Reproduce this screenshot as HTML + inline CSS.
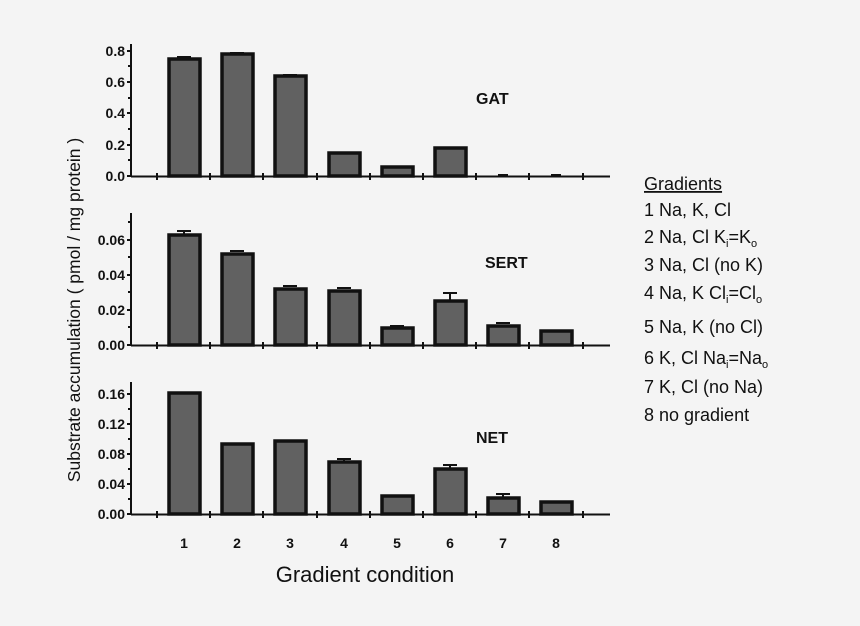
<!DOCTYPE html>
<html><head><style>body{margin:0;background:#f4f4f4}svg{display:block}</style></head><body>
<svg width="860" height="626" xmlns="http://www.w3.org/2000/svg" font-family="Liberation Sans, sans-serif">
<rect width="860" height="626" fill="#f4f4f4"/>
<g stroke="#111" stroke-width="2">
<line x1="131" y1="44" x2="131" y2="177"/><line x1="131" y1="176.5" x2="610" y2="176.5"/>
<line x1="131" y1="213" x2="131" y2="346"/><line x1="131" y1="345.5" x2="610" y2="345.5"/>
<line x1="131" y1="382" x2="131" y2="515"/><line x1="131" y1="514.5" x2="610" y2="514.5"/>
</g>
<g stroke="#111" stroke-width="2">
<path d="M127 176h4M127 145h4M127 113h4M127 82h4M127 51h4M128 160h3M128 129h3M128 98h3M128 66h3"/>
<path d="M127 345h4M127 310h4M127 275h4M127 240h4M128 327h3M128 292h3M128 257h3M128 222h3"/>
<path d="M127 514h4M127 484h4M127 454h4M127 424h4M127 394h4M128 499h3M128 469h3M128 439h3M128 409h3"/>
<path d="M157 173v7M210 173v7M263 173v7M317 173v7M370 173v7M423 173v7M476 173v7M529 173v7M583 173v7"/>
<path d="M157 342v7M210 342v7M263 342v7M317 342v7M370 342v7M423 342v7M476 342v7M529 342v7M583 342v7"/>
<path d="M157 511v7M210 511v7M263 511v7M317 511v7M370 511v7M423 511v7M476 511v7M529 511v7M583 511v7"/>
</g>
<g font-size="14" font-weight="bold" text-anchor="end" fill="#111">
<text x="125" y="181">0.0</text><text x="125" y="150">0.2</text><text x="125" y="118">0.4</text><text x="125" y="87">0.6</text><text x="125" y="56">0.8</text>
<text x="125" y="350">0.00</text><text x="125" y="315">0.02</text><text x="125" y="280">0.04</text><text x="125" y="245">0.06</text>
<text x="125" y="519">0.00</text><text x="125" y="489">0.04</text><text x="125" y="459">0.08</text><text x="125" y="429">0.12</text><text x="125" y="399">0.16</text>
</g>
<g fill="#616161" stroke="#111" stroke-width="3.5">
<rect x="169" y="59" width="31" height="117"/><rect x="222" y="54" width="31" height="122"/><rect x="275" y="76" width="31" height="100"/><rect x="329" y="153" width="31" height="23"/><rect x="382" y="167" width="31" height="9"/><rect x="435" y="148" width="31" height="28"/>
<rect x="169" y="235" width="31" height="110"/><rect x="222" y="254" width="31" height="91"/><rect x="275" y="289" width="31" height="56"/><rect x="329" y="291" width="31" height="54"/><rect x="382" y="328" width="31" height="17"/><rect x="435" y="301" width="31" height="44"/><rect x="488" y="326" width="31" height="19"/><rect x="541" y="331" width="31" height="14"/>
<rect x="169" y="393" width="31" height="121"/><rect x="222" y="444" width="31" height="70"/><rect x="275" y="441" width="31" height="73"/><rect x="329" y="462" width="31" height="52"/><rect x="382" y="496" width="31" height="18"/><rect x="435" y="469" width="31" height="45"/><rect x="488" y="498" width="31" height="16"/><rect x="541" y="502" width="31" height="12"/>
</g>
<g stroke="#111" stroke-width="2" fill="none">
<path d="M177 57h14M184 57v2M230 53h14M283 75h14M498 175h10M551 175h10"/>
<path d="M177 231h14M184 231v4M230 251h14M283 286h14M337 288h14M390 326h14M443 293h14M450 293v8M496 323h14"/>
<path d="M337 459h14M344 459v3M443 465h14M450 465v4M496 494h14M503 494v4"/>
</g>
<g font-size="16" font-weight="bold" fill="#111">
<text x="476" y="104">GAT</text><text x="485" y="268">SERT</text><text x="476" y="443">NET</text>
</g>
<g font-size="14" font-weight="bold" text-anchor="middle" fill="#111">
<text x="184" y="548">1</text><text x="237" y="548">2</text><text x="290" y="548">3</text><text x="344" y="548">4</text><text x="397" y="548">5</text><text x="450" y="548">6</text><text x="503" y="548">7</text><text x="556" y="548">8</text>
</g>
<text x="365" y="582" font-size="22" text-anchor="middle" fill="#111">Gradient condition</text>
<text transform="translate(80,310) rotate(-90)" font-size="17.5" text-anchor="middle" fill="#111">Substrate accumulation ( pmol / mg protein )</text>
<g font-size="18" fill="#111">
<text x="644" y="190" text-decoration="underline">Gradients</text>
<text x="644" y="216">1 Na, K, Cl</text>
<text x="644" y="243">2 Na, Cl K<tspan font-size="11" dy="4">i</tspan><tspan dy="-4">=K</tspan><tspan font-size="11" dy="4">o</tspan></text>
<text x="644" y="271">3 Na, Cl (no K)</text>
<text x="644" y="299">4 Na, K Cl<tspan font-size="11" dy="4">i</tspan><tspan dy="-4">=Cl</tspan><tspan font-size="11" dy="4">o</tspan></text>
<text x="644" y="333">5 Na, K (no Cl)</text>
<text x="644" y="364">6 K, Cl  Na<tspan font-size="11" dy="4">i</tspan><tspan dy="-4">=Na</tspan><tspan font-size="11" dy="4">o</tspan></text>
<text x="644" y="393">7 K, Cl (no Na)</text>
<text x="644" y="421">8 no gradient</text>
</g>
</svg>
</body></html>
